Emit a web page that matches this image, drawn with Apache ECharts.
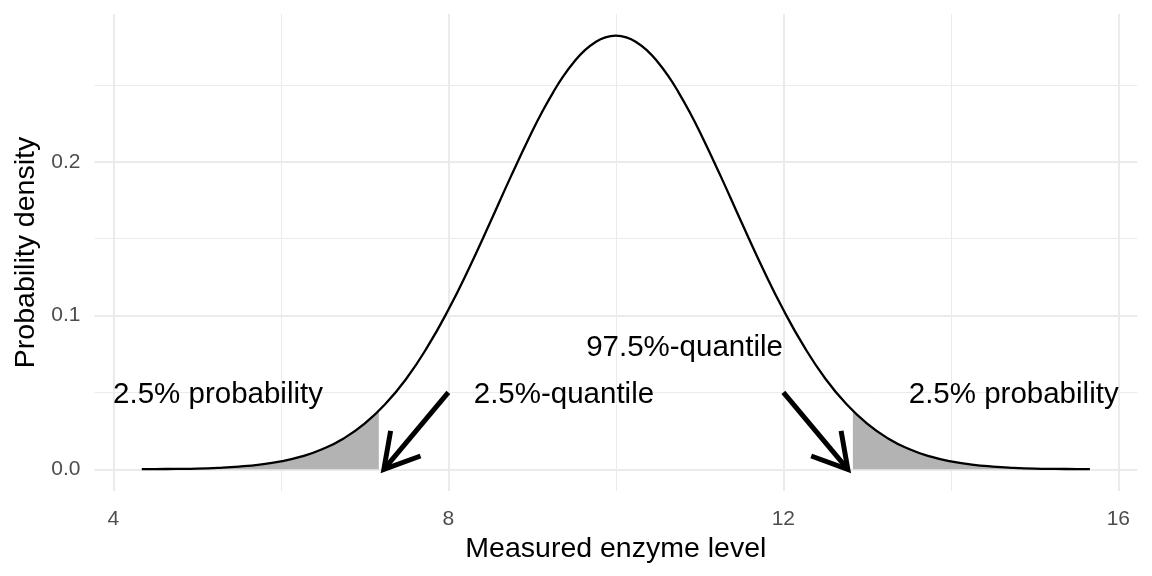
<!DOCTYPE html>
<html><head><meta charset="utf-8">
<script src="https://cdn.jsdelivr.net/npm/echarts@6/dist/echarts.min.js"></script>
<style>html,body{margin:0;padding:0;background:#fff}#c{width:1152px;height:576px}</style>
</head><body><div id="c"></div>
<script>
// ---- data ----
const enzymeLevel = [4.34,4.5,4.75,5,5.25,5.5,5.75,6,6.25,6.5,6.75,7,7.25,7.5,7.75,8,8.25,8.5,8.75,9,9.125,9.25,9.375,9.5,9.625,9.75,9.875,10,
  10.125,10.25,10.375,10.5,10.625,10.75,10.875,11,11.25,11.5,11.75,12,12.25,12.5,12.75,13,13.25,13.5,13.75,14,14.25,14.5,14.75,15,15.25,15.5,15.66];
const density = [0.0001,0.00015,0.0003,0.0005,0.0010,0.0018,0.0031,0.0052,0.0084,0.0132,0.0201,0.0297,0.0426,0.0591,0.0796,0.1038,0.1312,0.1607,0.1909,0.2197,0.2330,0.2451,0.2559,0.2650,0.2724,0.2777,0.2810,0.2821,
  0.2810,0.2777,0.2724,0.2650,0.2559,0.2451,0.2330,0.2197,0.1909,0.1607,0.1312,0.1038,0.0796,0.0591,0.0426,0.0297,0.0201,0.0132,0.0084,0.0052,0.0031,0.0018,0.0010,0.0005,0.0003,0.00015,0.0001];
const lowerShadeEnd = 7.17, lowerShadeDensity = 0.0381;
const upperShadeStart = 12.83, upperShadeDensity = 0.0381;
const lowerQuantile = 7.23, upperQuantile = 12.77;
const xTicks = [4, 8, 12, 16];
const xMinorTicks = [6, 10, 14];
const yTicks = [0, 0.1, 0.2];
const yMinorTicks = [0.05, 0.15, 0.25];
const annotationText = ['2.5% probability', '2.5%-quantile', '97.5%-quantile', '2.5% probability'];
const annotationX = [5.25, 9.38, 10.82, 14.75];
const annotationY = [0.05, 0.05, 0.08, 0.05];
const arrowFrom = [[8, 0.05], [12, 0.05]];
const arrowTo = [[lowerQuantile, 0], [upperQuantile, 0]];

// ---- build ----
const FONT = '"Liberation Sans", Arial, Helvetica, sans-serif';
const curve = enzymeLevel.map((x, i) => [x, density[i]]);
const leftTail = curve.filter(p => p[0] < lowerShadeEnd).concat([[lowerShadeEnd, lowerShadeDensity]]);
const rightTail = [[upperShadeStart, upperShadeDensity]].concat(curve.filter(p => p[0] > upperShadeStart));
const arrowData = arrowFrom.map((f, i) => [f[0], f[1], arrowTo[i][0], arrowTo[i][1]]);
const textData = annotationText.map((t, i) => [annotationX[i], annotationY[i], i]);

const gridLines = [];
xTicks.forEach(v => gridLines.push({xAxis: v, lineStyle: {width: 2}}));
xMinorTicks.forEach(v => gridLines.push({xAxis: v, lineStyle: {width: 1}}));
yTicks.forEach(v => gridLines.push({yAxis: v, lineStyle: {width: 2}}));
yMinorTicks.forEach(v => gridLines.push({yAxis: v, lineStyle: {width: 1}}));

const chart = echarts.init(document.getElementById('c'), null, {renderer: 'canvas'});
chart.setOption({
  animation: false,
  backgroundColor: '#ffffff',
  textStyle: {fontFamily: FONT},
  grid: {left: 94.4, right: 14.7, top: 14, bottom: 85, containLabel: false},
  xAxis: {
    type: 'value', min: 3.774, max: 16.226,
    axisLine: {show: false}, axisTick: {show: false}, splitLine: {show: false},
    axisLabel: {customValues: xTicks, color: '#4d4d4d', fontSize: 21, margin: 18, fontFamily: FONT},
    name: 'Measured enzyme level', nameLocation: 'middle', nameGap: 42,
    nameTextStyle: {fontSize: 28.5, color: '#000', fontFamily: FONT}
  },
  yAxis: {
    type: 'value', min: -0.0141, max: 0.2962,
    axisLine: {show: false}, axisTick: {show: false}, splitLine: {show: false},
    axisLabel: {customValues: yTicks, color: '#4d4d4d', fontSize: 21, margin: 14, fontFamily: FONT,
      formatter: v => v.toFixed(1)},
    name: 'Probability density', nameLocation: 'middle', nameGap: 53, nameRotate: 90,
    nameTextStyle: {fontSize: 28.5, color: '#000', fontFamily: FONT}
  },
  series: [
    {type: 'line', data: [], z: 0, silent: true,
      markLine: {z: 0, silent: true, symbol: ['none', 'none'], label: {show: false},
        lineStyle: {color: '#ebebeb', type: 'solid'}, data: gridLines}},
    {type: 'line', data: leftTail, smooth: true, showSymbol: false, z: 1,
      lineStyle: {width: 0}, areaStyle: {color: '#b3b3b3', opacity: 1, origin: 'auto'}},
    {type: 'line', data: rightTail, smooth: true, showSymbol: false, z: 1,
      lineStyle: {width: 0}, areaStyle: {color: '#b3b3b3', opacity: 1, origin: 'auto'}},
    {type: 'line', data: curve, smooth: true, showSymbol: false, z: 2,
      lineStyle: {color: '#000', width: 2.3}},
    {type: 'custom', data: arrowData, z: 3, encode: {x: [0, 2], y: [1, 3]},
      renderItem: (params, api) => {
        const s = api.coord([api.value(0), api.value(1)]);
        const e = api.coord([api.value(2), api.value(3)]);
        const ang = Math.atan2(s[1] - e[1], s[0] - e[0]);
        const L = 39, a = Math.PI / 6;
        const h1 = [e[0] + L * Math.cos(ang + a), e[1] + L * Math.sin(ang + a)];
        const h2 = [e[0] + L * Math.cos(ang - a), e[1] + L * Math.sin(ang - a)];
        return {type: 'group', children: [
          {type: 'line', shape: {x1: s[0], y1: s[1], x2: e[0], y2: e[1]},
            style: {stroke: '#000', lineWidth: 5, lineCap: 'butt'}},
          {type: 'polyline', shape: {points: [h1, e, h2]},
            style: {stroke: '#000', lineWidth: 5, fill: null, lineJoin: 'miter', lineCap: 'butt'}}
        ]};
      }},
    {type: 'custom', data: textData, z: 4, encode: {x: 0, y: 1},
      renderItem: (params, api) => {
        const p = api.coord([api.value(0), api.value(1)]);
        return {type: 'text', x: p[0], y: p[1] + 2,
          style: {text: annotationText[api.value(2)], fontSize: 29.5, fontFamily: FONT, fill: '#000',
            align: 'center', verticalAlign: 'middle'}};
      }}
  ]
});
</script></body></html>
